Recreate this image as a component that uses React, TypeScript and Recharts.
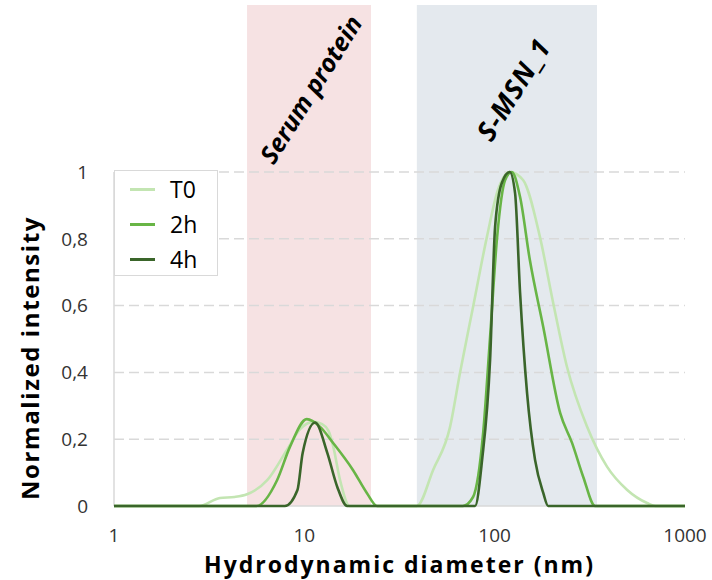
import React from 'react';
import { LineChart, Line, XAxis, YAxis, ReferenceArea, ReferenceLine } from 'recharts';

// ---- data ----
const seriesNames = ['T0', '2h', '4h'];

const t0Diameter = [1, 2.8, 3.6, 4.3, 5.0, 6.4, 8.1, 9.5, 11.1, 12.4, 13.4, 14.2, 15.4, 17.3, 39, 47.5, 58.3, 65.8, 77, 91, 104, 120, 141, 173, 203, 240, 306, 390, 497, 632, 700, 1000];
const t0Intensity = [0, 0, 0.024, 0.027, 0.035, 0.078, 0.168, 0.23, 0.252, 0.245, 0.225, 0.177, 0.078, 0, 0, 0.108, 0.237, 0.40, 0.596, 0.805, 0.946, 1, 0.976, 0.805, 0.608, 0.416, 0.237, 0.117, 0.048, 0.009, 0, 0];

const h2Diameter = [1, 5.6, 7.2, 8.4, 10.3, 12.1, 14.2, 18, 21.3, 24.1, 68, 77, 87, 94.6, 103, 113.5, 123, 136, 153, 180, 221, 255, 292, 337, 1000];
const h2Intensity = [0, 0, 0.078, 0.177, 0.26, 0.237, 0.188, 0.108, 0.039, 0, 0, 0.027, 0.219, 0.506, 0.805, 0.976, 1, 0.925, 0.737, 0.536, 0.278, 0.189, 0.087, 0, 0];

const h4Diameter = [1, 7.9, 9.2, 9.8, 11.4, 13.2, 14.9, 16.8, 78.9, 85.9, 94.6, 100.5, 109, 120, 128, 136, 148, 163, 180, 191, 1000];
const h4Intensity = [0, 0, 0.048, 0.159, 0.25, 0.159, 0.057, 0, 0, 0.138, 0.437, 0.835, 0.967, 1, 0.937, 0.638, 0.338, 0.138, 0.039, 0, 0];

const xTicks = [1, 10, 100, 1000];
const yTicks = [0, 0.2, 0.4, 0.6, 0.8, 1];

const bandLabels = ['Serum protein', 'S-MSN_1'];
const bandStarts = [5.0, 39];
const bandEnds = [22.4, 345];

// ---- styles ----
const FONT = '"Open Sans", "DejaVu Sans", sans-serif';
const seriesColors = ['#c3e5b2', '#68b546', '#3a652a'];
const bandColors = ['#f6e2e3', '#e4e9ee'];
const bandLabelShift = [1, 6];
const bandLabelSize = [25, 27];
const bandLabelSpacing = [0, 1];

const toPoints = (d: number[], v: number[]) => d.map((x, i) => ({ d: x, v: v[i] }));
const seriesData = [
  toPoints(t0Diameter, t0Intensity),
  toPoints(h2Diameter, h2Intensity),
  toPoints(h4Diameter, h4Intensity),
];

const BandLabel = (props: any) => {
  const { viewBox, text, shift, spacing, size } = props;
  if (!viewBox) return null;
  const cx = viewBox.x + viewBox.width / 2 + shift;
  const cy = viewBox.y + 84;
  return (
    <text
      x={cx}
      y={cy}
      transform={`rotate(-58 ${cx} ${cy})`}
      textAnchor="middle"
      dominantBaseline="central"
      fontFamily={FONT}
      fontWeight="bold"
      fontStyle="italic"
      fontSize={size}
      letterSpacing={spacing}
      fill="#000"
    >
      {text}
    </text>
  );
};

const YTitle = (props: any) => {
  const { viewBox } = props;
  if (!viewBox) return null;
  const x = 39;
  const y = viewBox.y + viewBox.height - 148;
  return (
    <text
      x={x}
      y={y}
      transform={`rotate(-90 ${x} ${y})`}
      textAnchor="middle"
      fontFamily={FONT}
      fontWeight="bold"
      fontSize={24}
      letterSpacing={1.6}
      fill="#000"
    >
      Normalized intensity
    </text>
  );
};

export default function App() {
  return (
    <div style={{ position: 'absolute', left: 0, top: 0, width: 712, height: 580, background: '#fff' }}>
      <LineChart
        width={712}
        height={580}
        margin={{ top: 5, right: 27, bottom: 0, left: 14 }}
      >
        {bandLabels.map((lab, i) => (
          <ReferenceArea
            key={lab}
            x1={bandStarts[i]}
            x2={bandEnds[i]}
            y1={0}
            y2={1.5}
            fill={bandColors[i]}
            fillOpacity={1}
            stroke="none"
            ifOverflow="visible"
            label={<BandLabel text={lab} shift={bandLabelShift[i]} spacing={bandLabelSpacing[i]} size={bandLabelSize[i]} />}
          />
        ))}
        {yTicks.filter((t) => t > 0).map((t) => (
          <ReferenceLine key={t} y={t} stroke="#d9d9d9" strokeWidth={1.5} strokeDasharray="10 5" />
        ))}
        <ReferenceLine y={0} stroke="#d9d9d9" strokeWidth={1.5} />
        <XAxis
          dataKey="d"
          type="number"
          scale="log"
          domain={[1, 1000]}
          ticks={xTicks}
          allowDataOverflow
          height={74}
          axisLine={false}
          tickLine={false}
          tickMargin={17}
          tick={{ fontFamily: FONT, fontSize: 19, fill: '#333' }}
          label={{ value: 'Hydrodynamic diameter (nm)', position: 'insideBottom', offset: 7, style: { fontFamily: FONT, fontWeight: 'bold', fontSize: 23, letterSpacing: 2, fill: '#000' } }}
        />
        <YAxis
          type="number"
          domain={[0, 1.5]}
          ticks={yTicks}
          width={100}
          axisLine={false}
          tickLine={false}
          tickMargin={20}
          tick={{ fontFamily: FONT, fontSize: 19, fill: '#333' }}
          tickFormatter={(v: number) => String(v).replace('.', ',')}
          label={<YTitle />}
        />
        <ReferenceLine segment={[{ x: 1, y: 0 }, { x: 1, y: 1 }]} stroke="#d9d9d9" strokeWidth={1.5} />
        {seriesNames.map((n, i) => (
          <Line
            key={n}
            data={seriesData[i]}
            dataKey="v"
            name={n}
            type="monotone"
            stroke={seriesColors[i]}
            strokeWidth={2.6}
            dot={false}
            activeDot={false}
            isAnimationActive={false}
          />
        ))}
      </LineChart>
      <div
        style={{
          position: 'absolute',
          left: 114,
          top: 170,
          width: 104,
          height: 106,
          border: '1px solid #d9d9d9',
          background: '#fff',
          boxSizing: 'border-box',
          fontFamily: FONT,
          fontSize: 23,
          color: '#000',
        }}
      >
        {seriesNames.map((n, i) => (
          <div key={n} style={{ position: 'absolute', left: 15, top: 2 + i * 35, height: 32, display: 'flex', alignItems: 'center' }}>
            <div style={{ width: 25, height: 3, background: seriesColors[i], marginRight: 15 }} />
            <span>{n}</span>
          </div>
        ))}
      </div>
    </div>
  );
}
